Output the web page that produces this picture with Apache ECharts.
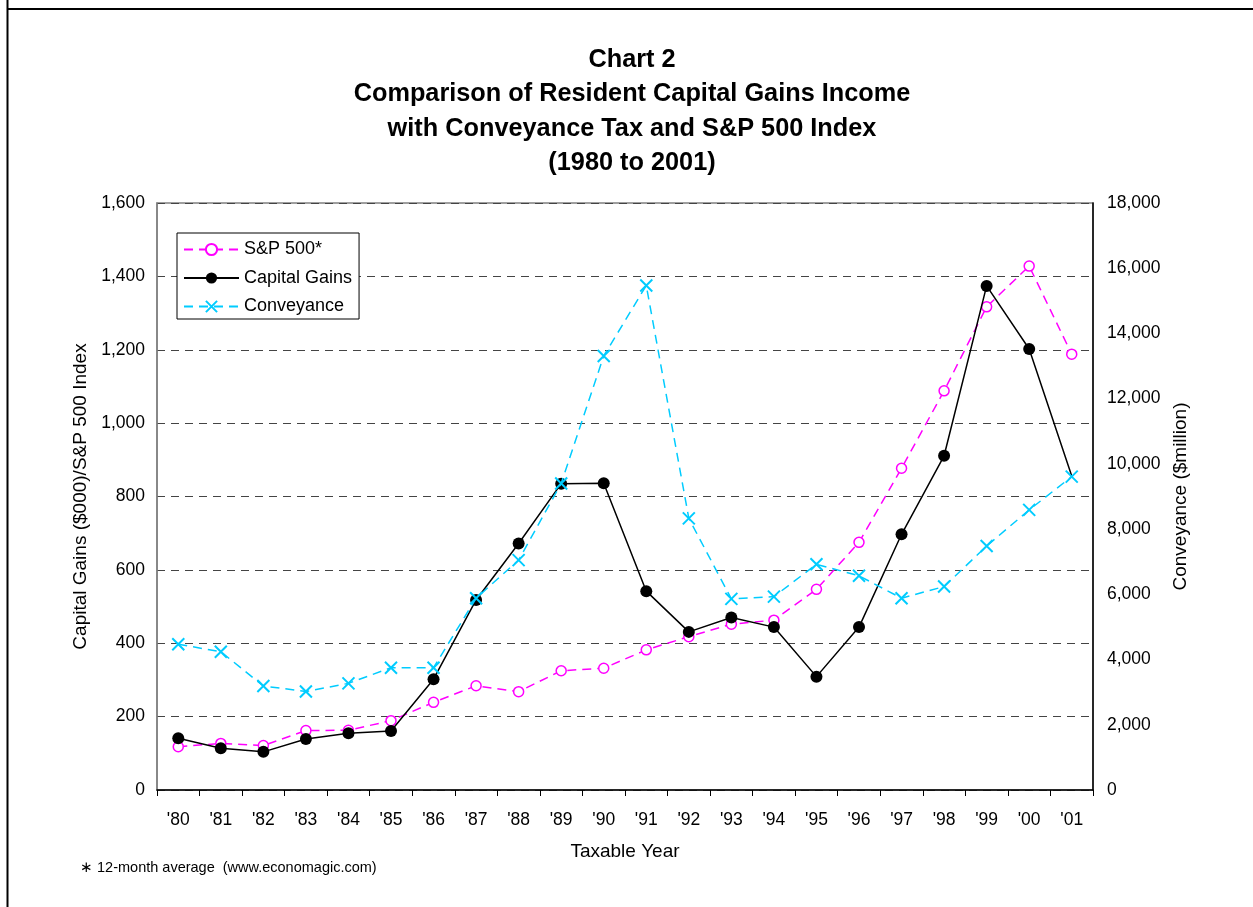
<!DOCTYPE html>
<html><head><meta charset="utf-8">
<script src="https://cdn.jsdelivr.net/npm/echarts@6/dist/echarts.min.js"></script>
<style>html,body{margin:0;padding:0;background:#fff}#c{width:1253px;height:907px}</style>
</head><body><div id="c"></div>
<script>
const years = ["'80","'81","'82","'83","'84","'85","'86","'87","'88","'89","'90","'91","'92","'93","'94","'95","'96","'97","'98","'99","'00","'01"];
const sp500 = [118,127,121,162,163,189,239,284,268,325,332,382,418,452,463,547,675,877,1088,1317,1428,1188];
const capitalGains = [141,114,104,139,155,161,302,518,672,835,836,542,431,470,444,309,444,697,911,1374,1202,856];
const conveyance = [4470,4240,3190,3020,3270,3750,3750,5880,7050,9400,13310,15470,8330,5860,5930,6920,6570,5880,6240,7480,8590,9610];
const leftTicks = {min:0, max:1600, interval:200};
const rightTicks = {min:0, max:18000, interval:2000};
const titleLines = ['Chart 2','Comparison of Resident Capital Gains Income','with Conveyance Tax and S&P 500 Index','(1980 to 2001)'];

const FONT = '"Liberation Sans", Arial, sans-serif';
const fmt = v => Number(v).toLocaleString('en-US');
const chart = echarts.init(document.getElementById('c'));

const graphics = [
  {type:'line', shape:{x1:7.5,y1:0,x2:7.5,y2:907}, style:{stroke:'#000',lineWidth:2}},
  {type:'line', shape:{x1:7,y1:9,x2:1253,y2:9}, style:{stroke:'#000',lineWidth:2}},
  {type:'text', style:{text:'\u2217 12-month average  (www.economagic.com)', x:80, y:868, textVerticalAlign:'middle', font:'14.5px '+FONT, fill:'#000'}}
];
titleLines.forEach((t,i)=>graphics.push({type:'text', style:{text:t, x:632, y:60+i*34.4, textAlign:'center', textVerticalAlign:'middle', font:'bold 25.3px '+FONT, fill:'#000'}}));

const xSymbol = 'path://M0,0L10,10M10,0L0,10';
const cgData = capitalGains.map((v,i)=> i===capitalGains.length-1 ? {value:v, symbol:'none'} : v);

chart.setOption({
  animation:false,
  textStyle:{fontFamily:FONT},
  graphic:graphics,
  grid:{left:157, top:203, width:936, height:587, show:true, borderColor:'#808080', borderWidth:1.5, backgroundColor:'transparent'},
  legend:{
    left:177, top:233, orient:'vertical', backgroundColor:'#fff', borderColor:'#000', borderWidth:1,
    padding:[7.5,7,3.5,6], itemWidth:55, itemHeight:14, itemGap:10.5,
    textStyle:{fontSize:18, color:'#000', fontFamily:FONT},
    data:['S&P 500*','Capital Gains','Conveyance']
  },
  xAxis:{
    type:'category', data:years, boundaryGap:true,
    name:'Taxable Year', nameLocation:'middle', nameGap:52,
    nameTextStyle:{fontSize:19, color:'#000', fontFamily:FONT},
    axisLine:{lineStyle:{color:'#000', width:1.5}},
    axisTick:{show:true, length:6, lineStyle:{color:'#000'}},
    axisLabel:{fontSize:17.5, color:'#000', margin:21, fontFamily:FONT}
  },
  yAxis:[
    {type:'value', min:leftTicks.min, max:leftTicks.max, interval:leftTicks.interval,
     name:'Capital Gains ($000)/S&P 500 Index', nameLocation:'middle', nameGap:66.5,
     nameTextStyle:{fontSize:19, color:'#000', fontFamily:FONT},
     axisLine:{show:true, lineStyle:{color:'#808080', width:1.5}},
     axisTick:{show:false},
     axisLabel:{fontSize:17.5, color:'#000', margin:12, formatter:fmt, fontFamily:FONT},
     splitLine:{show:true, lineStyle:{color:'#444', type:[8,6], width:1}}
    },
    {type:'value', min:rightTicks.min, max:rightTicks.max, interval:rightTicks.interval, position:'right',
     name:'Conveyance ($million)', nameLocation:'middle', nameGap:78.5, nameRotate:90,
     nameTextStyle:{fontSize:19, color:'#000', fontFamily:FONT},
     axisLine:{show:true, lineStyle:{color:'#000', width:1.5}},
     axisTick:{show:false},
     axisLabel:{fontSize:17.5, color:'#000', margin:14, formatter:fmt, fontFamily:FONT},
     splitLine:{show:false}
    }
  ],
  series:[
    {name:'S&P 500*', type:'line', yAxisIndex:0, data:sp500,
     symbol:'circle', symbolSize:10,
     itemStyle:{color:'#fff', borderColor:'#FF00FF', borderWidth:1.5},
     lineStyle:{color:'#FF00FF', width:1.5, type:[9,6]}, z:2},
    {name:'Capital Gains', type:'line', yAxisIndex:0, data:cgData,
     symbol:'circle', symbolSize:12,
     itemStyle:{color:'#000', borderColor:'#000', borderWidth:0},
     lineStyle:{color:'#000', width:1.5}, z:3},
    {name:'Conveyance', type:'line', yAxisIndex:1, data:conveyance,
     symbol:xSymbol, symbolSize:12,
     itemStyle:{color:'#00CCFF', borderColor:'#00CCFF', borderWidth:2},
     lineStyle:{color:'#00CCFF', width:1.5, type:[9,6]}, z:4}
  ]
});
</script></body></html>
